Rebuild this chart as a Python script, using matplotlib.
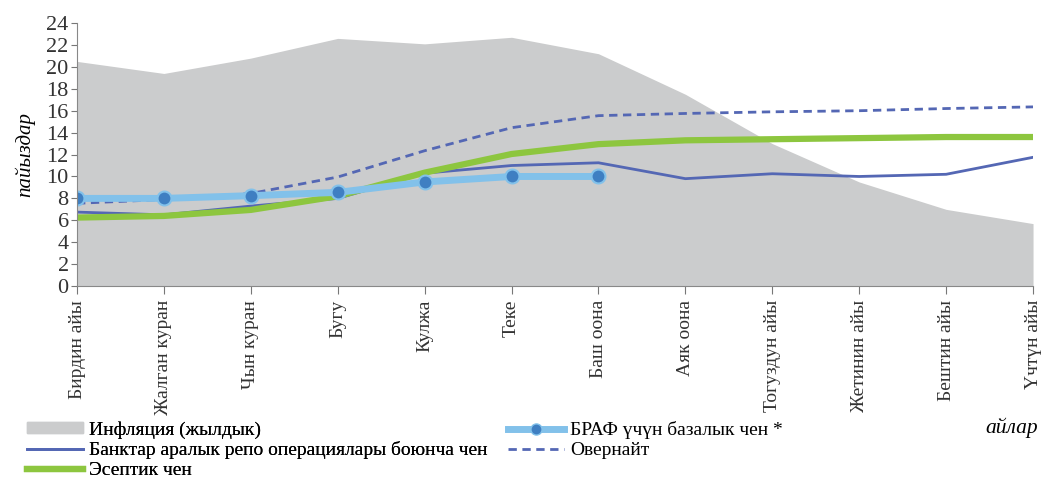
import numpy as np
import matplotlib.pyplot as plt
from matplotlib.lines import Line2D
from matplotlib.patches import Patch

plt.rcParams['font.family'] = ['Liberation Serif', 'DejaVu Serif']

months = ['Бирдин айы', 'Жалган куран', 'Чын куран', 'Бугу', 'Кулжа', 'Теке',
          'Баш оона', 'Аяк оона', 'Тогуздун айы', 'Жетинин айы', 'Бештин айы', 'Үчтүн айы']
inflation = [20.5, 19.4, 20.8, 22.6, 22.1, 22.7, 21.2, 17.5, 13.0, 9.5, 7.0, 5.7]
repo = [6.75, 6.5, 7.3, 8.0, 10.3, 11.0, 11.25, 9.8, 10.25, 10.0, 10.2, 11.75]
overnight = [7.55, 7.9, 8.45, 9.95, 12.35, 14.45, 15.55, 15.75, 15.9, 16.0, 16.2, 16.35]
policy = [6.25, 6.4, 6.95, 8.2, 10.35, 12.05, 12.95, 13.3, 13.4, 13.5, 13.6, 13.6]
braf = [8.0, 8.0, 8.25, 8.55, 9.5, 10.0, 10.0]

x = np.arange(len(months))

fig = plt.figure(figsize=(10.42, 4.8), dpi=100)
ax = fig.add_axes([0.0739, 0.404, 0.9175, 0.548])

ax.fill_between(x, inflation, color='#cbcccd', lw=0)
ax.plot(x, repo, color='#5467b4', lw=2)
ax.plot(x, overnight, color='#5467b4', lw=2, ls=(0, (3, 2)))
ax.plot(x, policy, color='#8dc63f', lw=4.5, solid_capstyle='butt')
ax.plot(x[:len(braf)], braf, color='#82c1ea', lw=5, marker='o', ms=10,
        markerfacecolor='#3f7fc2', markeredgecolor='#82c1ea', markeredgewidth=1.5)

ax.set_xlim(0, 11)
ax.set_ylim(0, 24)
ax.set_yticks(range(0, 25, 2))
ax.set_xticks(x)
ax.set_xticklabels(months, rotation=90, fontsize=14, color='#333333')
ax.tick_params(axis='y', labelsize=16, labelcolor='#333333', color='#777777', length=4, pad=2)
ax.tick_params(axis='x', color='#777777', length=6, pad=4, direction='out')
for s in ['top', 'right']:
    ax.spines[s].set_visible(False)
for s in ['left', 'bottom']:
    ax.spines[s].set_color('#888888')
ax.set_ylabel('пайыздар', fontsize=15, style='italic', labelpad=8)

fig.text(1038 / 1042, 1 - 428 / 480, 'айлар', fontsize=15.5, style='italic', ha='right', va='center')

h1 = [Patch(color='#cbcccd'),
      Line2D([], [], color='#5467b4', lw=2),
      Line2D([], [], color='#8dc63f', lw=4.5)]
l1 = ['Инфляция (жылдык)', 'Банктар аралык репо операциялары боюнча чен', 'Эсептик чен']
h2 = [Line2D([], [], color='#82c1ea', lw=5, marker='o', ms=8,
             markerfacecolor='#3f7fc2', markeredgecolor='#82c1ea'),
      Line2D([], [], color='#5467b4', lw=2, ls=(0, (3, 2)))]
l2 = ['БРАФ үчүн базалык чен *', 'Овернайт']

kw = dict(loc='upper left', frameon=False, fontsize=14, handlelength=2.9,
          handletextpad=0.3, labelspacing=0.15, borderpad=0, borderaxespad=0,
          handleheight=0.45)
leg1 = fig.legend(h1, l1, bbox_to_anchor=(27 / 1042, 1 - 421 / 480), **kw)
leg2 = fig.legend(h2, l2, bbox_to_anchor=(508 / 1042, 1 - 421 / 480), **kw)
fig.add_artist(leg1)

fig.savefig('out.png', dpi=100)
